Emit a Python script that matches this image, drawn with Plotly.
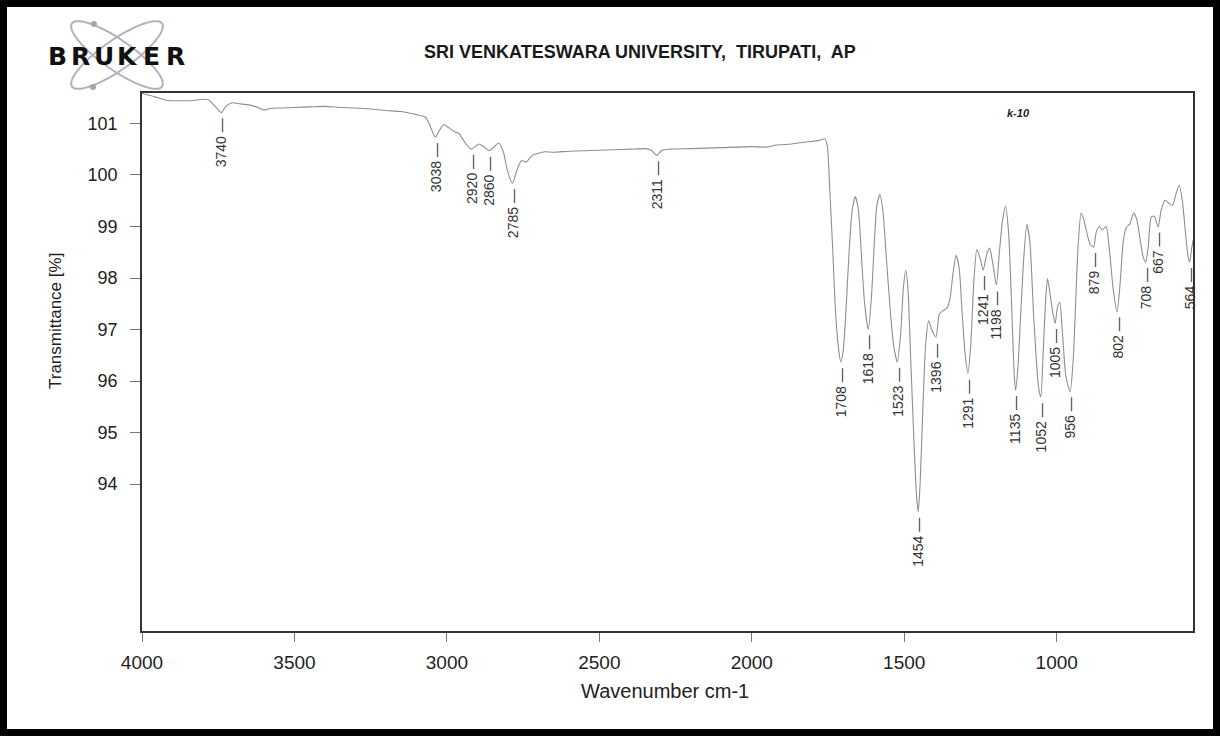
import numpy as np
import plotly.graph_objects as go

# ---------------- data ----------------
wavenumber = [4000, 3960, 3920, 3880, 3840, 3800, 3780, 3760, 3740, 3725, 3705, 3680, 3650, 3620,
              3600, 3580, 3540, 3500, 3450, 3400, 3350, 3300, 3250, 3200, 3150, 3100, 3070, 3055,
              3038, 3025, 3010, 2995, 2975, 2960, 2940, 2920, 2905, 2895, 2880, 2860, 2845, 2830,
              2815, 2800, 2785, 2770, 2755, 2740, 2720, 2700, 2680, 2650, 2600, 2550, 2500, 2450,
              2400, 2350, 2330, 2311, 2295, 2270, 2200, 2100, 2000, 1950, 1920, 1870, 1820, 1780,
              1760, 1752, 1745, 1735, 1725, 1715, 1708, 1700, 1690, 1680, 1670, 1660, 1650, 1640,
              1630, 1618, 1608, 1598, 1590, 1580, 1570, 1560, 1545, 1535, 1523, 1512, 1503, 1495,
              1488, 1478, 1468, 1460, 1454, 1448, 1440, 1430, 1420, 1410, 1396, 1385, 1372, 1360,
              1350, 1340, 1330, 1320, 1310, 1300, 1291, 1282, 1272, 1262, 1252, 1241, 1230, 1220,
              1210, 1198, 1188, 1178, 1168, 1158, 1148, 1140, 1135, 1128, 1118, 1108, 1098, 1088,
              1075, 1060, 1052, 1044, 1036, 1030, 1022, 1012, 1005, 997, 990, 982, 970, 956,
              946, 938, 930, 920, 912, 900, 890, 879, 870, 860, 850, 838, 828, 815,
              802, 792, 782, 772, 760, 748, 738, 725, 716, 708, 700, 690, 680, 667,
              658, 645, 632, 620, 608, 598, 588, 578, 570, 564, 558, 553]
transmittance = [101.58, 101.52, 101.45, 101.44, 101.44, 101.47, 101.45, 101.33, 101.21, 101.33, 101.40, 101.38, 101.36, 101.31,
                 101.26, 101.29, 101.30, 101.31, 101.32, 101.33, 101.31, 101.30, 101.28, 101.25, 101.23, 101.17, 101.12, 100.95,
                 100.73, 100.86, 100.98, 100.92, 100.84, 100.80, 100.62, 100.50, 100.56, 100.60, 100.55, 100.47, 100.55, 100.62,
                 100.45, 100.05, 99.84, 100.10, 100.28, 100.25, 100.38, 100.42, 100.45, 100.44, 100.46, 100.47, 100.48, 100.49,
                 100.50, 100.51, 100.48, 100.38, 100.48, 100.50, 100.51, 100.53, 100.55, 100.54, 100.58, 100.60, 100.64, 100.67,
                 100.70, 100.55, 99.80, 98.60, 97.30, 96.60, 96.37, 96.60, 97.50, 98.60, 99.35, 99.58, 99.30, 98.40,
                 97.50, 97.00, 97.60, 98.70, 99.40, 99.62, 99.30, 98.50, 97.30, 96.70, 96.37, 96.90, 97.80, 98.15,
                 97.80, 96.30, 94.80, 93.80, 93.46, 94.00, 95.30, 96.70, 97.17, 97.00, 96.85, 97.30, 97.37, 97.42,
                 97.60, 98.10, 98.44, 98.20, 97.30, 96.50, 96.15, 96.70, 97.90, 98.55, 98.40, 98.15, 98.45, 98.58,
                 98.30, 97.86, 98.50, 99.10, 99.39, 98.90, 97.50, 96.20, 95.82, 96.20, 97.30, 98.40, 99.04, 98.70,
                 97.20, 95.90, 95.69, 96.60, 97.60, 97.99, 97.70, 97.30, 97.12, 97.45, 97.53, 97.00, 96.10, 95.79,
                 96.40, 97.50, 98.60, 99.26, 99.15, 98.85, 98.65, 98.60, 98.90, 99.00, 98.93, 99.00, 98.60, 97.80,
                 97.34, 97.90, 98.70, 98.98, 99.05, 99.26, 99.15, 98.70, 98.40, 98.31, 98.60, 99.18, 99.20, 98.99,
                 99.30, 99.51, 99.45, 99.41, 99.65, 99.80, 99.50, 98.90, 98.45, 98.31, 98.55, 98.73]

peak_labels = [3740, 3038, 2920, 2860, 2785, 2311, 1708, 1618, 1523, 1454, 1396, 1291, 1241,
               1198, 1135, 1052, 1005, 956, 879, 802, 708, 667, 564]

x_ticks = [4000, 3500, 3000, 2500, 2000, 1500, 1000]
y_ticks = [94, 95, 96, 97, 98, 99, 100, 101]

title_text = "SRI VENKATESWARA UNIVERSITY,  TIRUPATI,  AP"
logo_text = "BRUKER"
sample_text = "k-10"
x_title = "Wavenumber cm-1"
y_title = "Transmittance [%]"

# ---------------- layout geometry ----------------
W, H = 1221, 737
ML, MR, MT, MB = 142, 28, 93, 106
PW, PH = W - ML - MR, H - MT - MB
FONT = "Arial, 'Liberation Sans', sans-serif"


def px(x):
    return (x - ML) / PW


def py(y):
    return (H - MB - y) / PH


fig = go.Figure()
fig.add_trace(go.Scatter(x=wavenumber, y=transmittance, mode="lines",
                         line=dict(color="#8f8f8f", width=1.1, shape="spline", smoothing=0.6),
                         hoverinfo="skip", showlegend=False))

wn_sorted = np.array(wavenumber[::-1], dtype=float)
tr_sorted = np.array(transmittance[::-1], dtype=float)
annotations = []
for p in peak_labels:
    yv = float(np.interp(p, wn_sorted, tr_sorted))
    annotations.append(dict(x=p, y=yv, xref="x", yref="y", text=f"{p} \u2014", showarrow=False,
                            textangle=-90, xanchor="center", yanchor="top", yshift=-4,
                            font=dict(family=FONT, size=14, color="#333333")))

annotations.append(dict(x=px(640), y=py(52), xref="paper", yref="paper", text=f"<b>{title_text}</b>",
                        showarrow=False, xanchor="center", yanchor="middle",
                        font=dict(family=FONT, size=18, color="#1a1a1a")))
annotations.append(dict(x=px(1018), y=py(113), xref="paper", yref="paper", text=f"<b><i>{sample_text}</i></b>",
                        showarrow=False, xanchor="center", yanchor="middle",
                        font=dict(family=FONT, size=11, color="#222222")))
# axis titles
annotations.append(dict(x=px(55), y=py(321), xref="paper", yref="paper", text=y_title,
                        showarrow=False, textangle=-90, xanchor="center", yanchor="middle",
                        font=dict(family=FONT, size=17, color="#222222")))
annotations.append(dict(x=px(665), y=py(691), xref="paper", yref="paper", text=x_title,
                        showarrow=False, xanchor="center", yanchor="middle",
                        font=dict(family=FONT, size=20, color="#222222")))

# BRUKER logo letters
letter_x = np.linspace(57, 175, len(logo_text))
for ch, lx in zip(logo_text, letter_x):
    annotations.append(dict(x=px(lx), y=py(56), xref="paper", yref="paper", text=f"<b>{ch}</b>",
                            showarrow=False, xanchor="center", yanchor="middle",
                            font=dict(family="'DejaVu Sans', Arial, sans-serif", size=25, color="#111111")))

shapes = []
# orbit ellipses of the logo
cx, cy, a, b = 117, 55, 55, 15
t = np.linspace(0, 2 * np.pi, 73)
for ang in (35, -35):
    r = np.deg2rad(ang)
    ex = cx + a * np.cos(t) * np.cos(r) - b * np.sin(t) * np.sin(r)
    ey = cy + a * np.cos(t) * np.sin(r) + b * np.sin(t) * np.cos(r)
    path = "M " + " L ".join(f"{px(u):.5f},{py(v):.5f}" for u, v in zip(ex, ey)) + " Z"
    shapes.append(dict(type="path", path=path, xref="paper", yref="paper",
                       line=dict(color="#b3b1c0", width=2), layer="below"))
for dx, dy in ((94, 24), (93, 87)):
    shapes.append(dict(type="circle", xref="paper", yref="paper",
                       x0=px(dx - 3), x1=px(dx + 3), y0=py(dy + 3), y1=py(dy - 3),
                       fillcolor="#a6a4b4", line=dict(width=0), layer="below"))
# page border
shapes.append(dict(type="rect", xref="paper", yref="paper",
                   x0=px(3.5), x1=px(1216.5), y0=py(732.5), y1=py(3.5),
                   line=dict(color="#000000", width=7)))

fig.update_layout(
    width=W, height=H,
    margin=dict(l=ML, r=MR, t=MT, b=MB, pad=0),
    paper_bgcolor="white", plot_bgcolor="white",
    font=dict(family=FONT, color="#222222"),
    annotations=annotations, shapes=shapes,
    xaxis=dict(range=[4000, 553], tickvals=x_ticks, ticktext=[str(v) for v in x_ticks],
               ticks="outside", ticklen=9, tickwidth=1, tickcolor="#777777",
               showline=True, linecolor="#333333", linewidth=1.6, mirror=True,
               showgrid=False, zeroline=False, ticklabelstandoff=4,
               tickfont=dict(family=FONT, size=19, color="#222222")),
    yaxis=dict(range=[91.15, 101.59], tickvals=y_ticks, ticktext=[str(v) for v in y_ticks],
               ticks="outside", ticklen=10, tickwidth=1, tickcolor="#777777",
               showline=True, linecolor="#333333", linewidth=1.6, mirror=True,
               showgrid=False, zeroline=False, ticklabelstandoff=9,
               tickfont=dict(family=FONT, size=18, color="#222222")),
)

fig.write_html("out.html")
